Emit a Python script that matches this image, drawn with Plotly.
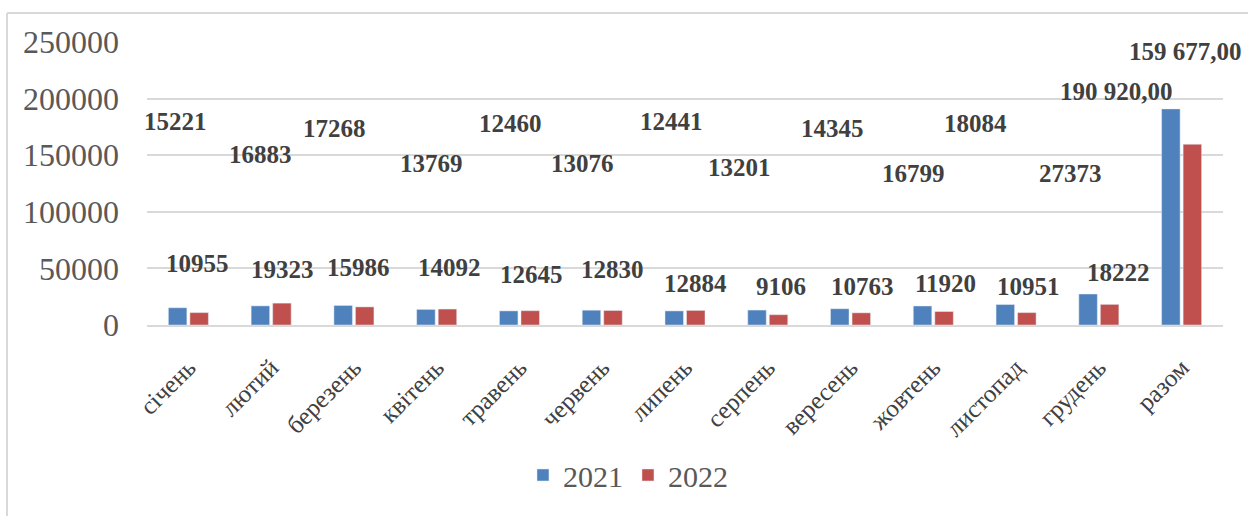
import plotly.graph_objects as go

categories = ["січень", "лютий", "березень", "квітень", "травень", "червень",
              "липень", "серпень", "вересень", "жовтень", "листопад", "грудень", "разом"]
values_2021 = [15221, 16883, 17268, 13769, 12460, 13076, 12441, 13201, 14345, 16799, 18084, 27373, 190920]
values_2022 = [10955, 19323, 15986, 14092, 12645, 12830, 12884, 9106, 10763, 11920, 10951, 18222, 159677]
y_ticks = [0, 50000, 100000, 150000, 200000, 250000]

# label placement (manually dragged labels in the original)
label_y_2021 = [180200, 150200, 174000, 143100, 178400, 143100, 180200, 138700, 174000, 133400, 178400, 133400, 206700]
label_dx_2021 = [-13, -11, -19, -5, -9, -20, -14, -28, -18, -20, -41, -28, -65]
label_y_2022 = [53900, 48600, 50400, 50400, 44200, 48600, 37100, 34400, 34400, 37100, 34400, 46800, 241200]
label_dx_2022 = [9, 11, 5, 13, 12, 10, 10, 13, 12, 12, 12, 20, 4]

BLUE = "#4f81bd"
RED = "#c0504d"
SERIF = "Liberation Serif"


def fmt(v, total=False):
    if total:
        return f"{v:,.2f}".replace(",", " ").replace(".", ",")
    return str(v)


fig = go.Figure()
fig.add_trace(go.Bar(x=categories, y=values_2021, name="2021", marker_color=BLUE))
fig.add_trace(go.Bar(x=categories, y=values_2022, name="2022", marker_color=RED))

n = len(categories)
for i, c in enumerate(categories):
    for vals, ly, dx in ((values_2021, label_y_2021, label_dx_2021),
                         (values_2022, label_y_2022, label_dx_2022)):
        fig.add_annotation(
            x=c, y=ly[i], xref="x", yref="y", xshift=dx[i],
            text="<b>" + fmt(vals[i], total=(i == n - 1)) + "</b>",
            showarrow=False,
            font=dict(family=SERIF, size=25, color="#404040"),
        )

L, R, T, B, W, H = 147, 25, 42, 191, 1248, 516
pw, ph = W - L - R, H - T - B
bx = (7 - L) / pw
by = (H - B - 13) / ph
fig.add_shape(type="line", xref="paper", yref="paper", x0=bx, x1=1.2, y0=by, y1=by,
              line=dict(color="#d9d9d9", width=2))
fig.add_shape(type="line", xref="paper", yref="paper", x0=bx, x1=bx, y0=by, y1=-1.0,
              line=dict(color="#d9d9d9", width=2))

fig.update_layout(
    width=W, height=H,
    margin=dict(l=L, r=R, t=T, b=B, autoexpand=False),
    paper_bgcolor="white", plot_bgcolor="white",
    barmode="group", bargap=0.48, bargroupgap=0.14,
    font=dict(family=SERIF, color="#595959"),
    showlegend=True,
    legend=dict(orientation="h", x=0.447, xanchor="center", y=-0.53, yanchor="middle",
                font=dict(family=SERIF, size=30, color="#595959"),
                itemwidth=30, traceorder="normal"),
    xaxis=dict(
        range=[-0.5, n - 0.5],
        tickangle=-45, tickfont=dict(family=SERIF, size=25, color="#404040"),
        showgrid=False, showline=True, linecolor="#d9d9d9", linewidth=2,
        ticks="", ticklabelstandoff=16, automargin=False,
    ),
    yaxis=dict(
        range=[0, 250000], tickvals=y_ticks, ticktext=[str(v) for v in y_ticks],
        tickfont=dict(family=SERIF, size=32, color="#595959"),
        showgrid=True, gridcolor="#d9d9d9", gridwidth=2,
        zeroline=False, showline=False, ticks="", ticklabelstandoff=27, automargin=False,
    ),
)

fig.write_html("out.html", config={"displayModeBar": False},
               post_script="document.body.style.margin='0px';")
